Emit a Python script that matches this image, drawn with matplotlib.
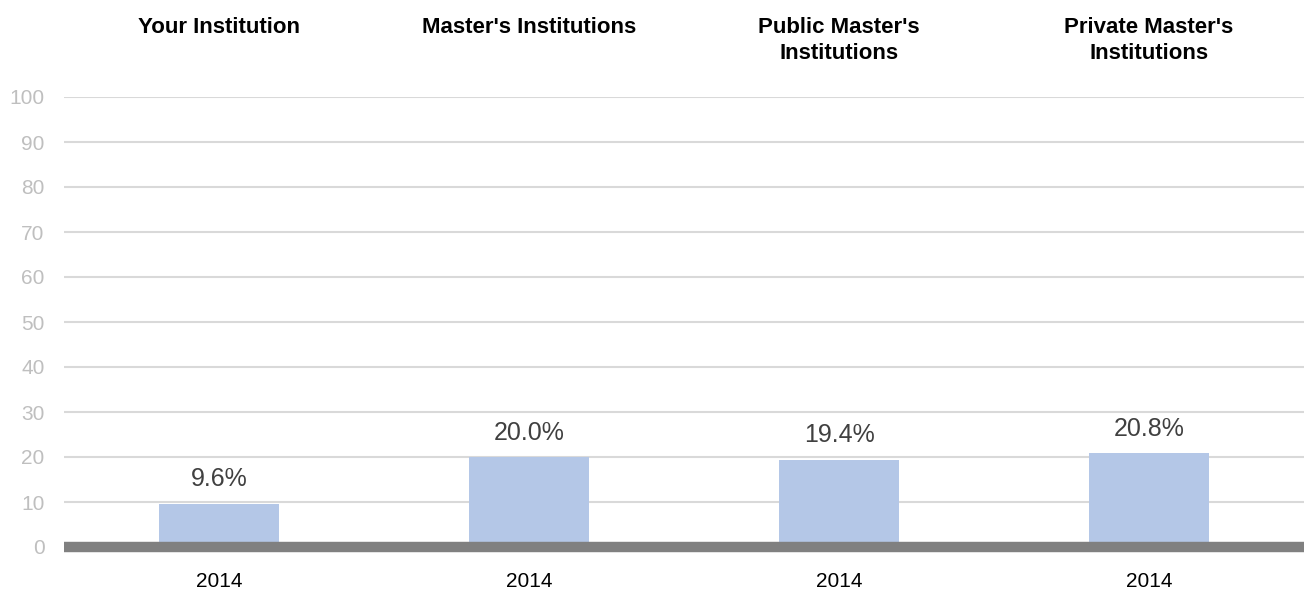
import matplotlib.pyplot as plt
import numpy as np

# chart data
groups = ["Your Institution", "Master's Institutions", "Public Master's\nInstitutions", "Private Master's\nInstitutions"]
years = ["2014", "2014", "2014", "2014"]
values = [9.6, 20.0, 19.4, 20.8]
yticks = [0, 10, 20, 30, 40, 50, 60, 70, 80, 90, 100]

plt.rcParams['font.family'] = ['Liberation Sans', 'DejaVu Sans']

fig = plt.figure(figsize=(13.04, 5.91), dpi=100)
ax = fig.add_axes([64 / 1304, 44 / 591, 1 - 64 / 1304, 450 / 591])

x = np.arange(len(values))
ax.bar(x, values, width=0.39, color='#b4c7e7', zorder=3)

for xi, v in zip(x, values):
    ax.annotate(f"{v:.1f}%", (xi, v), xytext=(0, 9), textcoords='offset points',
                ha='center', va='bottom', fontsize=18, color='#404040')

# group titles above the plot
for xi, g in zip(x, groups):
    ax.text(xi, 1.178, g, transform=ax.get_xaxis_transform(), ha='center', va='top',
            fontsize=16, fontweight='bold', color='black', linespacing=1.3)

ax.set_xlim(-0.5, len(values) - 0.5)
ax.set_ylim(0, 100)
ax.set_yticks(yticks)
ax.set_yticklabels([str(t) for t in yticks], color='#bfbfbf', fontsize=15)
ax.set_xticks(x)
ax.set_xticklabels(years, fontsize=15, color='black')
ax.tick_params(axis='x', length=0, pad=18)
ax.tick_params(axis='y', length=0, pad=14)

ax.grid(axis='y', color='#d9d9d9', linewidth=1.5, zorder=0)
ax.set_axisbelow(True)
for s in ax.spines.values():
    s.set_visible(False)
ax.axhline(0, color='#808080', linewidth=7.5, zorder=4, clip_on=False, solid_capstyle='butt')

fig.savefig('out.png', dpi=100)
